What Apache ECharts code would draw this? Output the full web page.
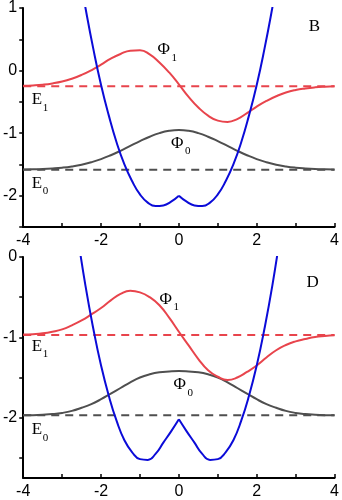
<!DOCTYPE html>
<html>
<head>
<meta charset="utf-8">
<script src="https://cdn.jsdelivr.net/npm/echarts@6/dist/echarts.min.js"></script>
<style>
  html, body { margin: 0; padding: 0; background: #fff; }
  #chart { width: 342px; height: 500px; }
</style>
</head>
<body>
<div id="chart"></div>
<script>
// shared x axis
const xLabels = [-4, -2, 0, 2, 4];
const gridX = [-4, -3.75, -3.5, -3.25, -3, -2.75, -2.5, -2.25, -2, -1.75, -1.5, -1.25, -1, -0.75, -0.5, -0.25,
  0, 0.25, 0.5, 0.75, 1, 1.25, 1.5, 1.75, 2, 2.25, 2.5, 2.75, 3, 3.25, 3.5, 3.75, 4];
const potX = [-2.6, -2.4, -2.2, -2.0, -1.8, -1.6, -1.4, -1.2, -1.0, -0.8, -0.6, -0.4, -0.2,
  0, 0.2, 0.4, 0.6, 0.8, 1.0, 1.2, 1.4, 1.6, 1.8, 2.0, 2.2, 2.4, 2.6];

// panel B
const yLabelsB = [1, 0, -1, -2];
const potBY = [1.7, 1.0, 0.35, -0.23, -0.72, -1.15, -1.50, -1.77, -1.98, -2.11, -2.165, -2.155, -2.095,
  -2.0, -2.095, -2.155, -2.165, -2.11, -1.98, -1.77, -1.50, -1.15, -0.72, -0.23, 0.35, 1.0, 1.7];
const phi1BY = [-0.244, -0.237, -0.225, -0.205, -0.175, -0.13, -0.07, 0.005, 0.095, 0.19, 0.265, 0.318, 0.325, 0.26, 0.13, -0.03,
  -0.22, -0.42, -0.59, -0.72, -0.80, -0.82, -0.775, -0.68, -0.575, -0.485, -0.41, -0.35, -0.31, -0.285, -0.268, -0.258, -0.252];
const phi0BY = [-1.582, -1.579, -1.574, -1.565, -1.552, -1.532, -1.504, -1.465, -1.415, -1.353, -1.282, -1.205, -1.128, -1.057, -1.0, -0.963,
  -0.95, -0.963, -1.0, -1.057, -1.128, -1.205, -1.282, -1.353, -1.415, -1.465, -1.504, -1.532, -1.552, -1.565, -1.574, -1.579, -1.582];
const e1B = -0.25;
const e0B = -1.585;

// panel D
const yLabelsD = [0, -1, -2];
const potDY = [0.26, -0.36, -0.89, -1.35, -1.73, -2.04, -2.28, -2.43, -2.515, -2.525, -2.45, -2.31, -2.17,
  -2.02, -2.17, -2.31, -2.45, -2.525, -2.515, -2.43, -2.28, -2.04, -1.73, -1.35, -0.89, -0.36, 0.26];
const phi1DY = [-0.965, -0.96, -0.95, -0.93, -0.90, -0.85, -0.79, -0.715, -0.635, -0.54, -0.46, -0.42, -0.44, -0.50, -0.60, -0.755,
  -0.93, -1.10, -1.27, -1.41, -1.49, -1.53, -1.50, -1.43, -1.35, -1.25, -1.16, -1.095, -1.05, -1.02, -0.995, -0.983, -0.975];
const phi0DY = [-1.97, -1.968, -1.963, -1.955, -1.94, -1.915, -1.876, -1.83, -1.77, -1.70, -1.63, -1.56, -1.50, -1.46, -1.435, -1.425,
  -1.42, -1.425, -1.435, -1.46, -1.50, -1.56, -1.63, -1.70, -1.77, -1.83, -1.876, -1.915, -1.94, -1.955, -1.963, -1.968, -1.97];
const e1D = -0.97;
const e0D = -1.97;

// text annotations (data coords of the left/middle of the main glyph)
const notesB = [
  { t: 'B', x: 3.34, y: 0.71 },
  { t: 'Φ', s: '1', x: -0.55, y: 0.33 },
  { t: 'Φ', s: '0', x: -0.20, y: -1.16 },
  { t: 'E', s: '1', x: -3.78, y: -0.47 },
  { t: 'E', s: '0', x: -3.78, y: -1.80 }
];
const notesD = [
  { t: 'D', x: 3.28, y: -0.32 },
  { t: 'Φ', s: '1', x: -0.50, y: -0.53 },
  { t: 'Φ', s: '0', x: -0.14, y: -1.59 },
  { t: 'E', s: '1', x: -3.78, y: -1.11 },
  { t: 'E', s: '0', x: -3.78, y: -2.15 }
];

const BLUE = '#0b0bd8';
const RED = '#e8444c';
const GRAY = '#4f4f4f';

const zip = (xs, ys) => xs.map((x, i) => [x, ys[i]]);
// the potential has a cusp at x = 0: draw each side as its own smooth piece
const leftOf0 = (pts) => pts.filter((p) => p[0] <= 0);
const rightOf0 = (pts) => pts.filter((p) => p[0] >= 0);

const chart = echarts.init(document.getElementById('chart'));

const makeX = (gi) => ({
  type: 'value', gridIndex: gi, min: -4, max: 4, interval: 1,
  axisLine: { show: true, onZero: false, lineStyle: { color: '#000', width: 2 } },
  axisTick: { show: true, inside: true, length: 4, lineStyle: { color: '#000', width: 1.5 } },
  axisLabel: { customValues: xLabels, color: '#000', fontSize: 16, fontFamily: 'Liberation Sans', margin: 6 },
  splitLine: { show: false }
});

const makeY = (gi, min, max, interval, labels, ticks) => ({
  type: 'value', gridIndex: gi, min: min, max: max, interval: interval,
  axisLine: { show: true, onZero: false, lineStyle: { color: '#000', width: 2 } },
  axisTick: { show: true, length: 4, customValues: ticks, lineStyle: { color: '#000', width: 1.5 } },
  axisLabel: { customValues: labels, color: '#000', fontSize: 16, fontFamily: 'Liberation Sans', margin: 6 },
  splitLine: { show: false }
});

const line = (gi, data, color, dashed, z) => ({
  type: 'line', xAxisIndex: gi, yAxisIndex: gi, data: data,
  smooth: dashed ? false : 0.5, clip: true,
  showSymbol: false, silent: true, z: z,
  lineStyle: { color: color, width: 2, type: dashed ? [8, 6] : 'solid' }
});

const potB = zip(potX, potBY);
const potD = zip(potX, potDY);

const option = {
  animation: false,
  backgroundColor: '#fff',
  grid: [
    { left: 23, right: 4, top: 7, height: 220 },
    { left: 23, right: 4, top: 257, height: 221 }
  ],
  xAxis: [makeX(0), makeX(1)],
  yAxis: [
    makeY(0, -2.5, 1, 0.5, yLabelsB, [1, 0.5, 0, -0.5, -1, -1.5, -2, -2.5]),
    makeY(1, -2.75, 0, 0.25, yLabelsD, [0, -0.5, -1, -1.5, -2, -2.5])
  ],
  series: [
    line(0, [[-4, e1B], [4, e1B]], RED, true, 1),
    line(0, [[-4, e0B], [4, e0B]], GRAY, true, 1),
    line(0, zip(gridX, phi0BY), GRAY, false, 2),
    line(0, zip(gridX, phi1BY), RED, false, 3),
    line(0, leftOf0(potB), BLUE, false, 4),
    line(0, rightOf0(potB), BLUE, false, 4),
    line(1, [[-4, e1D], [4, e1D]], RED, true, 1),
    line(1, [[-4, e0D], [4, e0D]], GRAY, true, 1),
    line(1, zip(gridX, phi0DY), GRAY, false, 2),
    line(1, zip(gridX, phi1DY), RED, false, 3),
    line(1, leftOf0(potD), BLUE, false, 4),
    line(1, rightOf0(potD), BLUE, false, 4)
  ]
};

chart.setOption(option);

// place the annotations from data coordinates
const serif = 'Liberation Serif';
const graphics = [];
[[0, notesB], [1, notesD]].forEach(([gi, notes]) => {
  notes.forEach((n) => {
    const p = chart.convertToPixel({ gridIndex: gi }, [n.x, n.y]);
    graphics.push({
      type: 'text', x: p[0], y: p[1], z: 10,
      style: { text: n.t, font: '17px ' + serif, fill: '#000', verticalAlign: 'middle', align: 'left' }
    });
    if (n.s) {
      graphics.push({
        type: 'text', x: p[0] + (n.t === 'Φ' ? 14 : 11), y: p[1] + 8, z: 10,
        style: { text: n.s, font: '11px ' + serif, fill: '#000', verticalAlign: 'middle', align: 'left' }
      });
    }
  });
});
chart.setOption({ graphic: graphics });

window.addEventListener('resize', () => chart.resize());
</script>
</body>
</html>
